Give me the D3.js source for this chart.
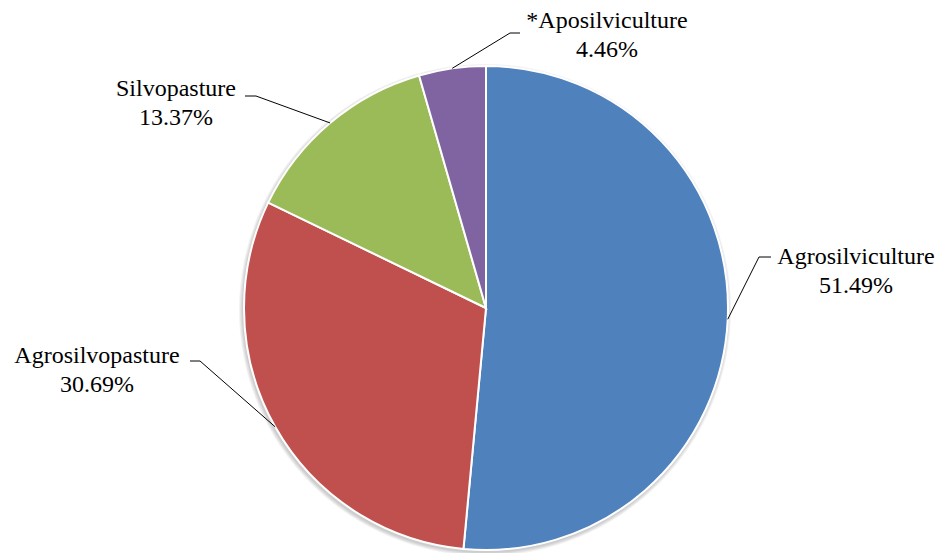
<!DOCTYPE html>
<html>
<head>
<meta charset="utf-8">
<script src="https://cdn.jsdelivr.net/npm/d3@7"></script>
<style>
  body { margin: 0; background: #fff; }
</style>
</head>
<body>
<svg id="chart" width="941" height="553"></svg>
<script>
const categories = ['Agrosilviculture', 'Agrosilvopasture', 'Silvopasture', '*Aposilviculture'];
const values = [51.49, 30.69, 13.37, 4.46];
const colors = ['#4F81BD', '#C0504D', '#9BBB59', '#8064A2'];

// elbow of each leader line and where the text block sits
const labelLayout = [
    { ex: 759, ey: 257, hx: 771, tx: 856, ty: 264 },
    { ex: 200, ey: 361, hx: 190, tx: 97, ty: 363 },
    { ex: 256, ey: 96, hx: 245, tx: 176, ty: 96 },
    { ex: 510, ey: 33, hx: 520, tx: 607, ty: 28 }
];

const cx = 486, cy = 308, radius = 242;

const svg = d3.select('#chart');

const data = categories.map((c, i) => ({ name: c, value: values[i], color: colors[i], layout: labelLayout[i] }));

const pie = d3.pie().value(d => d.value).sort(null);
const arc = d3.arc().innerRadius(0).outerRadius(radius);
const arcs = pie(data);

const g = svg.append('g').attr('transform', `translate(${cx},${cy})`);

// soft shadow made of a few faint offset rings
[4, 3, 2, 1].forEach(k => {
    g.append('circle')
        .attr('cx', -1).attr('cy', 2)
        .attr('r', radius + k)
        .attr('fill', '#000')
        .attr('fill-opacity', 0.05);
});

g.selectAll('path')
    .data(arcs)
    .enter().append('path')
    .attr('d', arc)
    .attr('fill', d => d.data.color)
    .attr('stroke', '#fff')
    .attr('stroke-width', 2);

// leader lines from slice edge to label
const lines = svg.append('g');
arcs.forEach(a => {
    const mid = (a.startAngle + a.endAngle) / 2;
    const x0 = cx + radius * Math.sin(mid);
    const y0 = cy - radius * Math.cos(mid);
    const L = a.data.layout;
    lines.append('polyline')
        .attr('points', `${x0},${y0} ${L.ex},${L.ey} ${L.hx},${L.ey}`)
        .attr('fill', 'none')
        .attr('stroke', '#000')
        .attr('stroke-width', 1);
});

arcs.forEach(a => {
    const L = a.data.layout;
    svg.append('text')
        .attr('x', L.tx).attr('y', L.ty)
        .attr('font-size', 24)
        .attr('font-family', 'Liberation Serif')
        .attr('text-anchor', 'middle')
        .text(a.data.name);
    svg.append('text')
        .attr('x', L.tx).attr('y', L.ty + 29)
        .attr('font-size', 24)
        .attr('font-family', 'Liberation Serif')
        .attr('text-anchor', 'middle')
        .text(a.data.value.toFixed(2) + '%');
});
</script>
</body>
</html>
